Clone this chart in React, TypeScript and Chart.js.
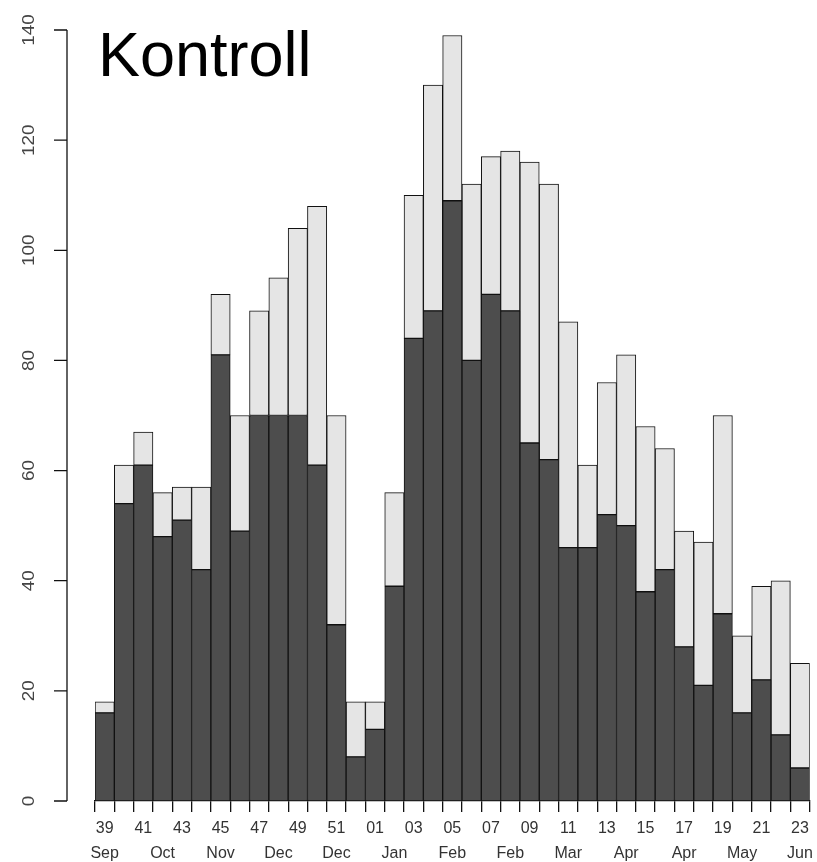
import React, { useEffect, useRef } from "react";
import { Chart, registerables } from "chart.js";

Chart.register(...registerables);

const weeks = [
  "39", "40", "41", "42", "43", "44", "45", "46", "47", "48", "49", "50", "51", "52",
  "01", "02", "03", "04", "05", "06", "07", "08", "09", "10", "11", "12", "13", "14",
  "15", "16", "17", "18", "19", "20", "21", "22", "23",
];

// every third week carries a month label
const months = ["Sep", "Oct", "Nov", "Dec", "Dec", "Jan", "Feb", "Feb", "Mar", "Apr", "Apr", "May", "Jun"];

const totals = [
  18, 61, 67, 56, 57, 57, 92, 70, 89, 95, 104, 108, 70, 18,
  18, 56, 110, 130, 139, 112, 117, 118, 116, 112, 87, 61, 76, 81,
  68, 64, 49, 47, 70, 30, 39, 40, 25,
];

const darkPart = [
  16, 54, 61, 48, 51, 42, 81, 49, 70, 70, 70, 61, 32, 8,
  13, 39, 84, 89, 109, 80, 92, 89, 65, 62, 46, 46, 52, 50,
  38, 42, 28, 21, 34, 16, 22, 12, 6,
];

const yTicks = [0, 20, 40, 60, 80, 100, 120, 140];

const titleText = "Kontroll";

const FONT = '"Liberation Sans", Arial, Helvetica, sans-serif';

const overlayPlugin = {
  id: "rStyleOverlay",
  afterDraw(chart: any) {
    const ctx = chart.ctx;
    const ys = chart.scales.y;
    const top = ys.getPixelForValue(yTicks[yTicks.length - 1]);
    const bot = ys.getPixelForValue(yTicks[0]);
    ctx.save();
    // y axis (R style, detached from plot)
    ctx.strokeStyle = "#111";
    ctx.lineWidth = 1.3;
    ctx.beginPath();
    ctx.moveTo(67, bot);
    ctx.lineTo(67, top);
    for (const v of yTicks) {
      const p = ys.getPixelForValue(v);
      ctx.moveTo(54, p);
      ctx.lineTo(67, p);
    }
    ctx.stroke();
    ctx.fillStyle = "#444";
    ctx.font = `16px ${FONT}`;
    ctx.textAlign = "center";
    ctx.textBaseline = "alphabetic";
    for (const v of yTicks) {
      const p = ys.getPixelForValue(v);
      ctx.save();
      ctx.translate(33.5, p);
      ctx.rotate(-Math.PI / 2);
      ctx.scale(1.18, 1);
      ctx.fillText(String(v), 0, 0);
      ctx.restore();
    }
    // title inside plot
    ctx.fillStyle = "#000";
    ctx.font = `63px ${FONT}`;
    ctx.textAlign = "left";
    ctx.fillText(titleText, 98, 76);
    ctx.restore();
  },
};

export default function App() {
  const ref = useRef<HTMLCanvasElement>(null);

  useEffect(() => {
    if (!ref.current) return;
    const lightPart = totals.map((t, i) => t - darkPart[i]);
    const common = {
      borderColor: "#111",
      borderWidth: 1,
      borderSkipped: false,
      categoryPercentage: 1,
      barPercentage: 1,
    };
    const chart = new Chart(ref.current, {
      type: "bar",
      data: {
        labels: weeks,
        datasets: [
          { label: "dark", data: darkPart, backgroundColor: "#4d4d4d", ...common },
          { label: "light", data: lightPart, backgroundColor: "#e5e5e5", ...common },
        ],
      },
      options: {
        animation: false,
        responsive: false,
        maintainAspectRatio: false,
        layout: { padding: { left: 95, right: 7, top: 30, bottom: 0 } },
        plugins: {
          legend: { display: false },
          tooltip: { enabled: false },
          title: { display: false },
        },
        scales: {
          x: {
            stacked: true,
            afterFit: (s: any) => {
              s.height = 61;
            },
            grid: {
              display: true,
              drawOnChartArea: false,
              drawTicks: true,
              tickLength: 11,
              offset: true,
              color: "#111",
              lineWidth: 1.3,
            },
            border: { display: true, color: "#111", width: 1.3 },
            ticks: {
              autoSkip: false,
              maxRotation: 0,
              minRotation: 0,
              padding: 4,
              color: "#333",
              font: { family: FONT, size: 16, lineHeight: 25 / 16 },
              callback: (_v: any, index: number) => {
                const w = index % 2 === 0 ? weeks[index] : "";
                const m = index % 3 === 0 ? months[index / 3] : "";
                if (!m) return w;
                return [w, m];
              },
            },
          },
          y: {
            stacked: true,
            display: false,
            min: 0,
            max: 140,
            ticks: { stepSize: 20 },
          },
        },
      },
      plugins: [overlayPlugin],
    } as any);
    return () => chart.destroy();
  }, []);

  return (
    <div style={{ position: "absolute", left: 0, top: 0, width: 817, height: 862 }}>
      <canvas ref={ref} width={817} height={862} />
    </div>
  );
}
